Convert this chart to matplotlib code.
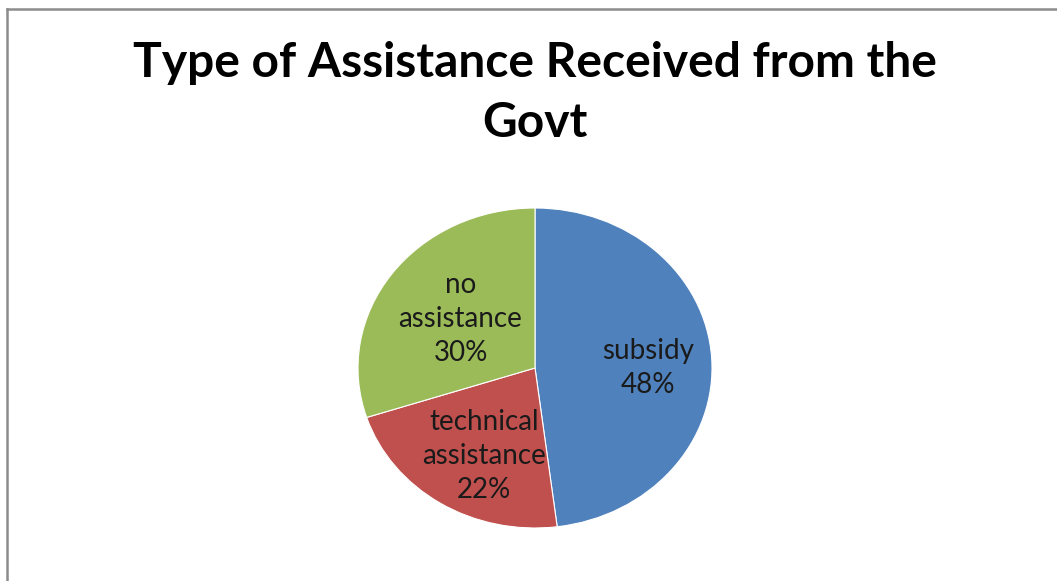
import numpy as np
import matplotlib
matplotlib.use("Agg")
import matplotlib.pyplot as plt
from matplotlib.lines import Line2D

title = "Type of Assistance Received from the\nGovt"
categories = ["subsidy", "technical\nassistance", "no\nassistance"]
shares = [48, 22, 30]
colors = ["#4F81BD", "#C0504D", "#9BBB59"]

W, H = 1057, 581
fig = plt.figure(figsize=(W / 100, H / 100), dpi=100)
fig.patch.set_facecolor("white")

# chart frame (left and top edges visible)
fx, fy = 6.5 / W, 1 - 8.5 / H
fig.add_artist(Line2D([fx, fx], [-0.01, fy], transform=fig.transFigure,
                      color="#8C8C8C", lw=1.8))
fig.add_artist(Line2D([fx, 1.01], [fy, fy], transform=fig.transFigure,
                      color="#8C8C8C", lw=1.8))

fig.text(535 / W, 1 - 93 / H, title, ha="center", va="center",
         fontsize=34.5, fontweight="bold", family=["Lato", "DejaVu Sans"],
         linespacing=1.46, color="black")

# pie area, slightly wider than tall
cx, cy, rx, ry = 535, 368, 177, 160
ax = fig.add_axes([(cx - rx) / W, 1 - (cy + ry) / H, 2 * rx / W, 2 * ry / H])
wedges, _ = ax.pie(shares, colors=colors, startangle=90, counterclock=False,
                   radius=1.0,
                   wedgeprops=dict(edgecolor="#FFFFFF", linewidth=0.8, alpha=1))
ax.set_aspect("auto")
ax.set_xlim(-1, 1)
ax.set_ylim(-1, 1)
ax.axis("off")

# radial distance and angular nudge of each data label inside its wedge
label_r = [0.64, 0.62, 0.52]
label_nudge = [-3.8, 4.6, 0.0]
for w, name, pct, r, dn in zip(wedges, categories, shares, label_r, label_nudge):
    ang = np.deg2rad((w.theta1 + w.theta2) / 2 + dn)
    ax.text(r * np.cos(ang), r * np.sin(ang), f"{name}\n{pct}%",
            ha="center", va="center", fontsize=20,
            family=["Lato", "DejaVu Sans"], linespacing=1.38, color="#1A1A1A")

fig.savefig("out.png", dpi=100, facecolor="white")
